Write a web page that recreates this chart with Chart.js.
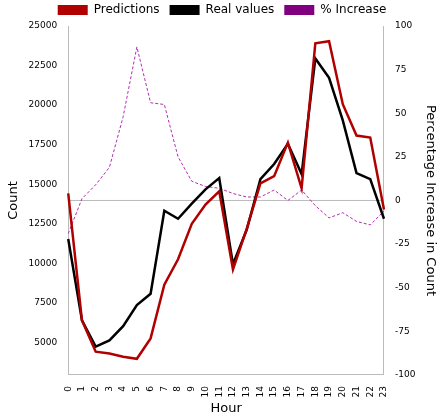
<!DOCTYPE html><html><head><script src="https://cdn.jsdelivr.net/npm/chart.js@4"></script>
<style>body{margin:0;background:#fff}#w{width:442px;height:416px}</style></head><body><div id="w"><canvas id="c"></canvas></div>
<script>
const hours=[...Array(24).keys()].map(String);
const predictions=[14420,6400,4420,4300,4100,3970,5260,8650,10260,12500,13720,14550,9620,12180,15060,15510,17630,14740,23910,24040,20060,18080,17950,13400];
const realValues=[11540,6400,4740,5130,6030,7370,8080,13330,12820,13780,14680,15390,9940,12120,15320,16280,17560,15640,22950,21730,19040,15700,15320,12820];
const pctIncrease=[-19,1,9,19,48,88,56,55,25,11,8,7,4,2,2,6,0,6,-3,-10,-7,-12,-14,-6];
const countTicks=[5000,7500,10000,12500,15000,17500,20000,22500,25000];
const pctTicks=[-100,-75,-50,-25,0,25,50,75,100];
const zeroLine={id:'z',beforeDatasetsDraw(ch){const y=ch.scales.y1.getPixelForValue(0),a=ch.chartArea,c=ch.ctx;c.save();c.strokeStyle='#bbb';c.lineWidth=1;c.beginPath();c.moveTo(a.left,y);c.lineTo(a.right,y);c.stroke();c.restore();}};
const F="'DejaVu Sans'";
new Chart(document.getElementById('c'),{type:'line',data:{labels:hours,datasets:[
{label:'Predictions',data:predictions,borderColor:'#b00000',backgroundColor:'#b00000',borderWidth:2.5,pointRadius:0,yAxisID:'y'},
{label:'Real values',data:realValues,borderColor:'#000',backgroundColor:'#000',borderWidth:2.5,pointRadius:0,yAxisID:'y'},
{label:'% Increase',data:pctIncrease,borderColor:'#b030b0',backgroundColor:'#800080',borderWidth:1,borderDash:[3,2],pointRadius:0,yAxisID:'y1'}]},
options:{responsive:true,maintainAspectRatio:false,animation:false,layout:{padding:{left:2,right:0,top:-6,bottom:0}},
plugins:{legend:{position:'top',labels:{boxWidth:30,boxHeight:10,padding:10,color:'#000',font:{family:F,size:12},
generateLabels(ch){return Chart.defaults.plugins.legend.labels.generateLabels(ch).map(l=>Object.assign(l,{lineDash:[],strokeStyle:l.fillStyle,lineWidth:0}));}}},tooltip:{enabled:false}},
scales:{x:{grid:{display:false},border:{color:'#bbb'},ticks:{autoSkip:false,maxRotation:90,minRotation:90,color:'#000',font:{family:F,size:9}},title:{display:true,text:'Hour',color:'#000',padding:0,font:{family:F,size:13}}},
y:{position:'left',min:2950,max:25000,afterBuildTicks(s){s.ticks=countTicks.map(v=>({value:v}));},grid:{display:false},border:{color:'#bbb'},ticks:{callback:v=>String(v),color:'#000',font:{family:F,size:9}},title:{display:true,text:'Count',color:'#000',font:{family:F,size:13}}},
y1:{position:'right',min:-100,max:100,afterBuildTicks(s){s.ticks=pctTicks.map(v=>({value:v}));},grid:{display:false},border:{color:'#bbb'},ticks:{callback:v=>String(v),color:'#000',font:{family:F,size:9}},title:{display:true,text:'Percentage Increase in Count',color:'#000',font:{family:F,size:13}}}}},
plugins:[zeroLine]});
</script></body></html>
